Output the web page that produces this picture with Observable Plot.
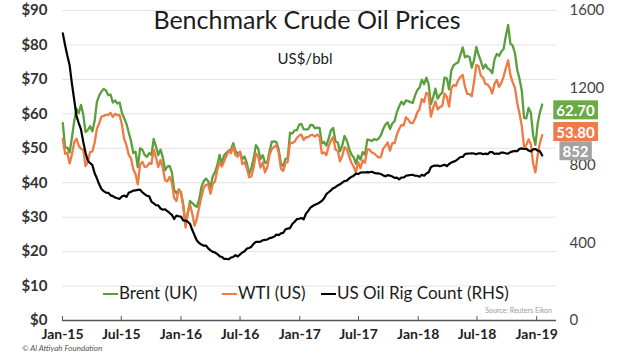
<!DOCTYPE html>
<html>
<head>
<meta charset="utf-8">
<script src="https://cdn.jsdelivr.net/npm/d3@7"></script>
<script src="https://cdn.jsdelivr.net/npm/@observablehq/plot@0.6"></script>
<style>
  html, body { margin: 0; padding: 0; background: #fff; }
  #wrap { position: relative; width: 620px; height: 355px; overflow: hidden; font-family: Lato, "Open Sans", sans-serif; }
  #wrap svg { position: absolute; left: 0; top: 0; }
  .ov { position: absolute; white-space: nowrap; }
  #title { left: 0; width: 614px; top: 5px; text-align: center; font-size: 25px; line-height: 28px; color: #1c1c1c; }
  #subtitle { left: 0; width: 610px; top: 49px; text-align: center; font-size: 15px; line-height: 18px; color: #1c1c1c; }
  .leg { top: 282px; font-size: 17px; line-height: 22px; color: #1c1c1c; }
  .sw { display: inline-block; width: 15px; height: 2px; vertical-align: middle; margin-right: 1px; position: relative; top: -1px; }
  #source { right: 68px; top: 306px; font-size: 7px; color: #9a9a9a; }
  #copy { left: 22px; top: 343px; font-size: 8px; font-style: italic; color: #555; }
</style>
</head>
<body>
<div id="wrap">
  <div id="chart"></div>
  <div class="ov" id="title">Benchmark Crude Oil Prices</div>
  <div class="ov" id="subtitle">US$/bbl</div>
  <div class="ov leg" style="left:103px"><span class="sw" style="background:#5b9f3d"></span>Brent (UK)</div>
  <div class="ov leg" style="left:222px"><span class="sw" style="background:#f07a43"></span>WTI (US)</div>
  <div class="ov leg" style="left:321px"><span class="sw" style="background:#000"></span>US Oil Rig Count (RHS)</div>
  <div class="ov" id="source">Source: Reuters Eikon</div>
  <div class="ov" id="copy">© Al Attiyah Foundation</div>
</div>
<script>
// Weekly (Friday) observations starting 2 Jan 2015, ending 18 Jan 2019
const firstWeek = "2015-01-02";

// Brent, US$/bbl
const brent2015 = [
  57.3, 50.1, 50.2, 48.8, 53.0,
  57.8, 61.5, 60.2, 62.6,
  59.7, 54.7, 55.3, 56.4,
  54.9, 57.9, 63.5, 65.3,
  66.5, 67.2, 66.8, 65.4, 65.6,
  63.3, 63.9, 63.0, 63.3,
  60.3, 58.7, 57.1, 54.6, 52.2,
  48.6, 49.0, 44.5, 50.0,
  49.6, 48.1, 47.5, 48.6,
  48.1, 52.7, 50.5, 48.0, 49.6,
  47.4, 43.6, 44.7, 44.9,
  43.0, 37.9, 36.9, 38.0
];
const brent2016 = [
  37.3, 33.6, 28.0, 31.0, 34.7,
  34.1, 33.4, 33.0, 35.1,
  38.7, 40.4, 41.2, 40.4,
  38.7, 41.9, 43.1, 45.1, 48.1,
  45.4, 48.0, 48.7, 49.3,
  49.6, 51.5, 49.2, 48.4,
  49.0, 46.8, 47.6, 45.7, 42.5,
  44.3, 47.0, 50.9, 49.9,
  46.8, 48.0, 45.8, 45.9, 49.2,
  51.9, 52.0, 51.8, 49.7,
  45.6, 44.8, 46.9, 47.2,
  54.5, 54.3, 55.2, 55.2, 56.8
];
const brent2017 = [
  57.1, 55.5, 55.5, 55.5,
  56.8, 56.7, 55.8, 56.0,
  55.9, 51.4, 51.8, 50.8, 52.8,
  55.2, 55.9, 52.0, 51.7,
  49.1, 50.8, 53.6, 52.2,
  50.0, 48.2, 47.4, 45.5, 47.9,
  46.7, 48.9, 48.1, 52.5,
  52.4, 52.1, 52.7, 52.4,
  52.8, 53.8, 55.6, 56.9, 57.5,
  55.6, 57.2, 57.8, 60.4,
  62.1, 63.5, 62.7, 63.9,
  63.7, 63.4, 63.2, 65.3, 66.9
];
const brent2018 = [
  67.6, 69.9, 68.6, 70.5,
  68.6, 62.8, 64.8, 67.3,
  64.4, 65.5, 66.2, 70.5, 70.3,
  67.1, 72.6, 74.1, 74.6,
  74.9, 77.1, 79.3, 76.4,
  76.8, 76.5, 73.4, 75.6, 79.4,
  77.1, 75.3, 73.1, 74.3,
  73.2, 72.8, 71.8, 75.8, 77.4,
  76.8, 78.1, 78.8, 82.7,
  85.8, 80.4, 79.8, 77.6,
  72.8, 70.2, 66.8, 58.8, 58.7,
  61.7, 60.3, 53.8, 51.0
];
const brent2019 = [57.1, 60.5, 62.7];

// WTI, US$/bbl
const wti2015 = [
  52.7, 48.4, 48.7, 45.6, 48.2,
  51.7, 52.8, 50.8, 49.8,
  49.6, 44.8, 46.0, 48.9,
  49.1, 51.6, 55.7, 57.2,
  59.2, 59.4, 59.7, 59.7, 60.3,
  59.1, 60.0, 59.6, 59.6,
  56.9, 52.7, 50.9, 48.1, 47.1,
  43.9, 42.5, 39.5, 45.2,
  46.1, 44.6, 44.7, 45.7,
  45.5, 49.6, 47.3, 44.6, 46.6,
  44.3, 40.7, 40.4, 41.7,
  40.0, 35.6, 34.7, 38.1
];
const wti2016 = [
  37.0, 33.2, 27.0, 31.5, 33.6,
  30.9, 27.5, 29.6, 32.8,
  35.9, 38.5, 39.4, 39.5,
  36.8, 39.7, 40.4, 43.7, 45.9,
  44.7, 46.2, 47.8, 49.3,
  48.6, 50.5, 48.0, 47.6,
  49.0, 45.4, 46.0, 44.2, 41.6,
  41.8, 44.5, 48.5, 47.6,
  44.4, 45.9, 43.0, 44.5, 48.2,
  49.8, 50.4, 50.9, 48.7,
  44.1, 43.4, 45.7, 46.1,
  51.7, 51.5, 51.9, 53.0, 53.7
];
const wti2017 = [
  54.0, 52.4, 53.2, 53.2,
  53.8, 53.9, 53.4, 54.0,
  53.3, 48.5, 48.8, 48.0, 50.6,
  52.2, 53.2, 49.6, 49.3,
  46.2, 47.8, 50.3, 49.8,
  47.7, 45.8, 44.7, 43.0, 46.0,
  44.2, 46.5, 45.8, 49.7,
  49.6, 48.8, 48.5, 47.9,
  47.3, 47.5, 49.9, 50.7, 51.7,
  49.3, 51.5, 51.5, 53.9,
  55.6, 56.7, 56.6, 59.0,
  58.4, 57.4, 57.3, 58.5, 60.4
];
const wti2018 = [
  61.4, 64.3, 63.4, 66.1,
  65.5, 59.2, 61.7, 63.6,
  61.3, 62.0, 62.3, 65.9, 64.9,
  62.1, 67.4, 68.4, 68.1,
  69.7, 70.7, 71.3, 67.9,
  65.8, 65.7, 65.1, 69.3, 74.2,
  73.8, 71.0, 70.5, 68.7,
  68.5, 67.6, 65.9, 68.7, 69.8,
  67.8, 69.0, 70.8, 73.3,
  75.5, 71.3, 69.1, 67.6,
  63.1, 60.2, 56.5, 50.4, 50.9,
  52.6, 51.2, 45.6, 43.0
];
const wti2019 = [48.0, 51.6, 53.8];

// US oil rig count (right-hand scale)
const rigs2015 = [
  1482, 1421, 1366, 1317, 1223,
  1140, 1056, 1019, 986,
  922, 866, 825, 813,
  802, 760, 734, 703,
  679, 668, 660, 659, 646,
  642, 635, 631, 628,
  640, 645, 638, 659, 664,
  670, 672, 674, 675,
  662, 652, 644, 641,
  614, 605, 595, 594, 578,
  572, 574, 564, 555,
  545, 524, 541, 538
];
const rigs2016 = [
  536, 516, 515, 510, 498,
  467, 439, 413, 400,
  392, 386, 387, 372,
  362, 354, 351, 343, 332,
  328, 318, 318, 316,
  325, 328, 337, 330,
  341, 351, 357, 371, 374,
  381, 396, 406, 406,
  407, 414, 416, 418, 425,
  428, 432, 443, 441,
  450, 452, 471, 474,
  477, 498, 510, 523, 525
];
const rigs2017 = [
  529, 522, 551, 566,
  583, 591, 597, 602,
  609, 617, 631, 652, 662,
  672, 683, 688, 697,
  703, 712, 720, 722,
  733, 741, 747, 758, 756,
  763, 765, 764, 766,
  765, 768, 763, 759,
  759, 756, 749, 744, 750,
  748, 743, 736, 737,
  729, 738, 738, 747,
  749, 751, 752, 747, 747
];
const rigs2018 = [
  742, 752, 747, 759,
  765, 791, 798, 799,
  800, 796, 800, 804, 797,
  808, 815, 820, 825,
  834, 844, 844, 859,
  861, 862, 863, 862, 858,
  863, 863, 858, 861,
  859, 869, 869, 860, 862,
  860, 867, 866, 863,
  861, 869, 873, 875,
  874, 886, 888, 885, 887,
  877, 873, 883, 885
];
const rigs2019 = [877, 873, 852];

// Axis ticks
const priceTicks = [0, 10, 20, 30, 40, 50, 60, 70, 80, 90];
const rigTicks = [0, 400, 800, 1200, 1600];
const xTickLabels = ["2015-01-01", "2015-07-01", "2016-01-01", "2016-07-01", "2017-01-01",
                     "2017-07-01", "2018-01-01", "2018-07-01", "2019-01-01"];
const xDomain = ["2015-01-01", "2019-03-03"];

// ---- build ----
const brent = [...brent2015, ...brent2016, ...brent2017, ...brent2018, ...brent2019];
const wti = [...wti2015, ...wti2016, ...wti2017, ...wti2018, ...wti2019];
const rigs = [...rigs2015, ...rigs2016, ...rigs2017, ...rigs2018, ...rigs2019];
const start = new Date(firstWeek);
const rows = brent.map((b, i) => ({
  date: d3.utcDay.offset(start, 7 * i), brent: b, wti: wti[i], rigs: rigs[i]
}));
const k = 90 / 1600; // rig count -> price axis units

const green = "#5b9f3d", orange = "#f07a43";
const last = rows[rows.length - 1];
const labels = [
  {y: last.brent, text: last.brent.toFixed(2), box: "#6bab45", dy: 7},
  {y: last.wti, text: last.wti.toFixed(2), box: "#ef7b4a", dy: -2},
  {y: last.rigs * k, text: String(last.rigs), box: "#a3a3a3", dy: -3}
];

const chart = Plot.plot({
  width: 620, height: 355,
  marginLeft: 62, marginRight: 64, marginTop: 10, marginBottom: 35,
  style: {fontFamily: "Lato, 'Open Sans', sans-serif", background: "transparent", overflow: "visible"},
  x: {type: "utc", domain: xDomain.map(d => new Date(d))},
  y: {domain: [0, 90]},
  marks: [
    Plot.gridY(priceTicks.slice(1), {stroke: "#e3e3e3", strokeOpacity: 1}),
    Plot.axisY(priceTicks, {anchor: "left", tickSize: 0, tickPadding: 15, tickFormat: d => "$" + d,
      fontSize: 15, fontWeight: "bold", fill: "#333", label: null}),
    Plot.axisY(rigTicks.map(t => t * k), {anchor: "right", tickSize: 0, tickPadding: 13,
      tickFormat: d => String(Math.round(d / k)), fontSize: 15, fill: "#444", label: null}),
    Plot.axisX(xTickLabels.map(d => new Date(d)), {anchor: "bottom", tickSize: -4, tickPadding: 13,
      tickFormat: d3.utcFormat("%b-%y"), fontSize: 14, fontWeight: "bold", fill: "#222",
      stroke: "#555", label: null}),
    Plot.ruleY([0], {stroke: "#555", strokeWidth: 1.5}),
    Plot.lineY(rows, {x: "date", y: "brent", stroke: green, strokeWidth: 2.3}),
    Plot.lineY(rows, {x: "date", y: "wti", stroke: orange, strokeWidth: 2.3}),
    Plot.lineY(rows, {x: "date", y: d => d.rigs * k, stroke: "#000", strokeWidth: 2.2}),
    ...labels.map(l => Plot.text([l], {y: "y", text: "text", frameAnchor: "right", textAnchor: "middle",
      dx: 19, dy: l.dy, fill: "white", fontWeight: "bold", fontSize: 15}))
  ]
});
document.getElementById("chart").appendChild(chart);

// coloured boxes behind the end-value labels (same transform as the text)
const ns = "http://www.w3.org/2000/svg";
const allText = Array.from(chart.querySelectorAll("text"));
labels.forEach(l => {
  const t = allText.find(el => el.textContent === l.text);
  if (!t) return;
  const b = t.getBBox();
  const r = document.createElementNS(ns, "rect");
  r.setAttribute("x", b.x - 3);
  r.setAttribute("y", b.y - 1);
  r.setAttribute("width", b.width + 6);
  r.setAttribute("height", b.height + 1);
  r.setAttribute("fill", l.box);
  const tr = t.getAttribute("transform");
  if (tr) r.setAttribute("transform", tr);
  t.parentNode.insertBefore(r, t);
});
</script>
</body>
</html>
